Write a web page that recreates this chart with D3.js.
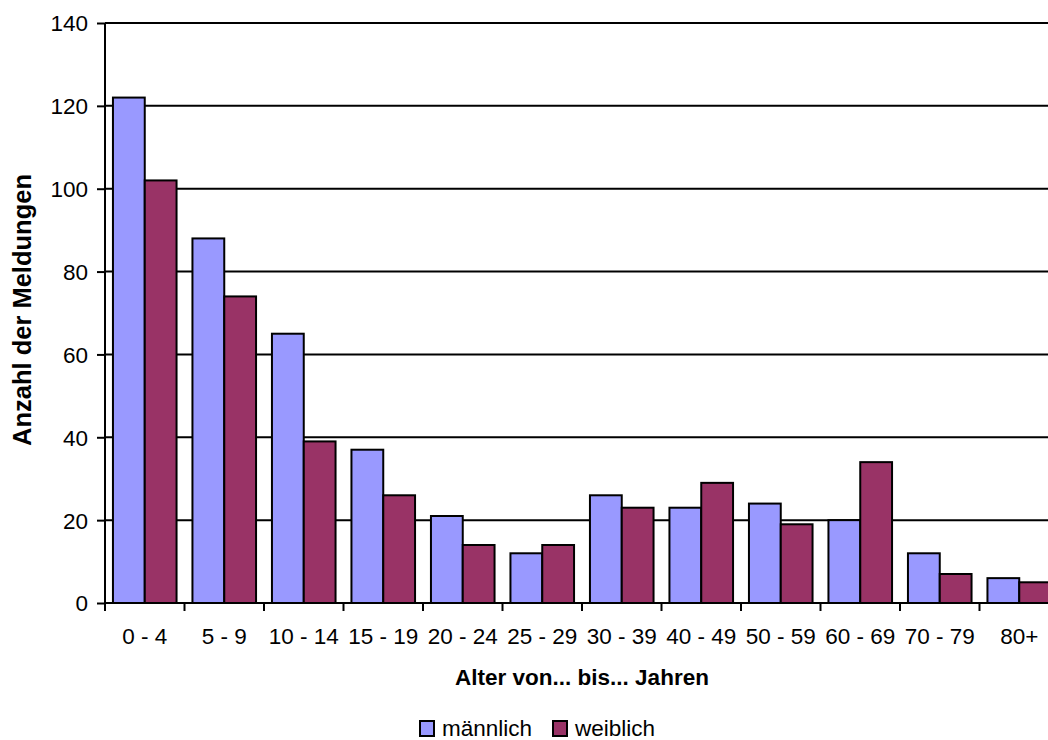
<!DOCTYPE html>
<html>
<head>
<meta charset="utf-8">
<script src="https://cdn.jsdelivr.net/npm/d3@7"></script>
<style>
  html, body { margin: 0; padding: 0; background: #fff; }
  svg { display: block; font-family: "Liberation Sans", Arial, sans-serif; }
</style>
</head>
<body>
<svg id="chart" width="1048" height="740"></svg>
<script>
// Meldungen nach Altersgruppe und Geschlecht
const categories = ["0 - 4", "5 - 9", "10 - 14", "15 - 19", "20 - 24", "25 - 29",
                    "30 - 39", "40 - 49", "50 - 59", "60 - 69", "70 - 79", "80+"];
const maennlich = [122, 88, 65, 37, 21, 12, 26, 23, 24, 20, 12, 6];
const weiblich  = [102, 74, 39, 26, 14, 14, 23, 29, 19, 34, 7, 5];
const seriesNames = ["männlich", "weiblich"];
const yTicks = [0, 20, 40, 60, 80, 100, 120, 140];

const colors = { "männlich": "#9999FF", "weiblich": "#993366" };
const fontSize = 22.5;
const fontFamily = "Liberation Sans, Arial, sans-serif";

const svg = d3.select("#chart");
const plotLeft = 105, plotTop = 23, plotBottom = 603;
const bandW = 79.5;
const plotRight = plotLeft + bandW * categories.length;

const x = d3.scaleBand().domain(categories).range([plotLeft, plotRight]).paddingInner(0).paddingOuter(0);
const x1 = d3.scaleBand().domain(seriesNames).range([0, x.bandwidth()]).paddingInner(0).paddingOuter(0.25);
const y = d3.scaleLinear().domain([0, 140]).range([plotBottom, plotTop]);

// horizontal gridlines
svg.append("g")
  .selectAll("line")
  .data(yTicks.filter(d => d > 0))
  .join("line")
  .attr("x1", plotLeft).attr("x2", plotRight)
  .attr("y1", d => y(d)).attr("y2", d => y(d))
  .attr("stroke", "#000").attr("stroke-width", 2);

// bars
const rows = categories.map((c, i) => ({ cat: c, values: [
  { s: "männlich", v: maennlich[i] }, { s: "weiblich", v: weiblich[i] } ] }));

svg.append("g")
  .selectAll("g")
  .data(rows)
  .join("g")
  .attr("transform", d => `translate(${x(d.cat)},0)`)
  .selectAll("rect")
  .data(d => d.values)
  .join("rect")
  .attr("x", d => x1(d.s))
  .attr("y", d => y(d.v))
  .attr("width", x1.bandwidth())
  .attr("height", d => y(0) - y(d.v))
  .attr("fill", d => colors[d.s])
  .attr("stroke", "#000")
  .attr("stroke-width", 2);

// y axis
const yAxis = svg.append("g")
  .attr("transform", `translate(${plotLeft},0)`)
  .call(d3.axisLeft(y).tickValues(yTicks).tickSize(8).tickPadding(9).tickFormat(d3.format("d")));
yAxis.select(".domain").attr("stroke", "#000").attr("stroke-width", 2).attr("d", `M0,${plotBottom}V${plotTop}`);
yAxis.selectAll(".tick line").attr("stroke", "#000").attr("stroke-width", 2);
yAxis.selectAll(".tick text").attr("font-size", fontSize).attr("fill", "#000")
  .attr("font-family", fontFamily).attr("dy", "0.35em");

// x axis
const xAxis = svg.append("g")
  .attr("transform", `translate(0,${plotBottom})`)
  .call(d3.axisBottom(x).tickSize(0).tickPadding(0));
xAxis.select(".domain").attr("stroke", "#000").attr("stroke-width", 2).attr("d", `M${plotLeft},0H${plotRight}`);
xAxis.selectAll(".tick text").attr("font-size", fontSize).attr("fill", "#000")
  .attr("font-family", fontFamily).attr("dy", 0).attr("y", 41);

// boundary ticks between categories
svg.append("g")
  .selectAll("line")
  .data(d3.range(categories.length + 1))
  .join("line")
  .attr("x1", i => plotLeft + i * x.step()).attr("x2", i => plotLeft + i * x.step())
  .attr("y1", plotBottom).attr("y2", plotBottom + 8)
  .attr("stroke", "#000").attr("stroke-width", 2);

// axis titles
svg.append("text")
  .attr("x", 582).attr("y", 685)
  .attr("text-anchor", "middle")
  .attr("font-size", fontSize).attr("font-weight", "bold")
  .text("Alter von... bis... Jahren");

svg.append("text")
  .attr("transform", `translate(30.5,310) rotate(-90)`)
  .attr("text-anchor", "middle")
  .attr("font-size", 25.5).attr("font-weight", "bold")
  .text("Anzahl der Meldungen");

// legend
const legend = svg.append("g").attr("transform", "translate(420,721)");
const legendX = [0, 133];
seriesNames.forEach((s, i) => {
  const g = legend.append("g").attr("transform", `translate(${legendX[i]},0)`);
  g.append("rect").attr("x", 0).attr("y", 0).attr("width", 14).attr("height", 15)
    .attr("fill", colors[s]).attr("stroke", "#000").attr("stroke-width", 2);
  g.append("text").attr("x", 22).attr("y", 15).attr("font-size", fontSize).text(s);
});
</script>
</body>
</html>
